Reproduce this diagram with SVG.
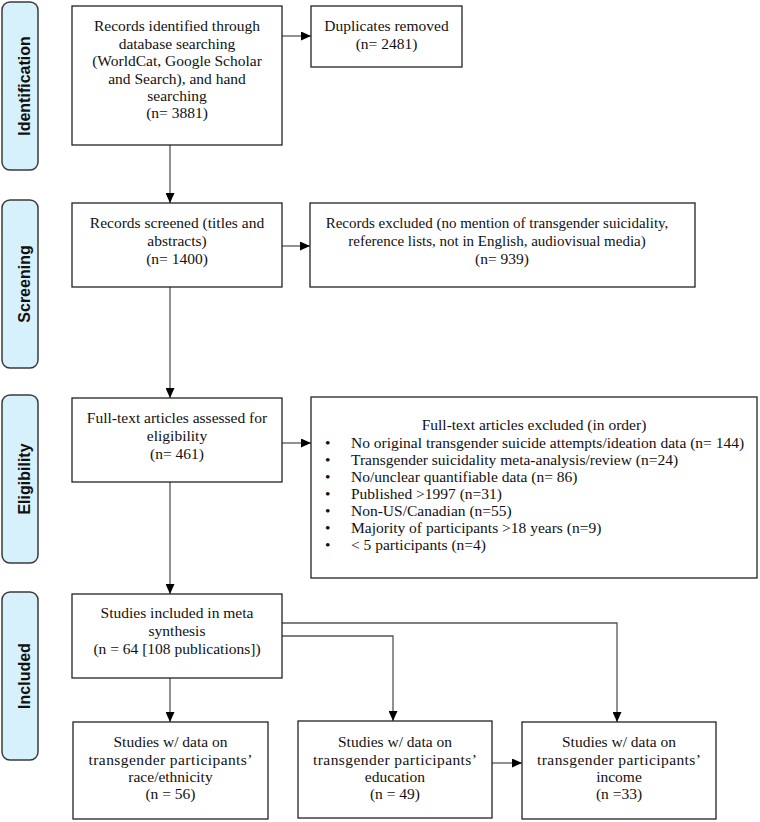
<svg xmlns="http://www.w3.org/2000/svg" width="760" height="822" viewBox="0 0 760 822">
<style>
.bx{fill:#fff;stroke:#222;stroke-width:1.3}
.ph{fill:#d7f1fc;stroke:#3a3a3a;stroke-width:1.5}
.t{font-family:"Liberation Serif","Times New Roman",serif;font-size:15.5px;fill:#111;text-anchor:middle}
.tl{font-family:"Liberation Serif","Times New Roman",serif;font-size:15.5px;fill:#111}
.pl{font-family:"Liberation Sans",Arial,sans-serif;font-size:16px;font-weight:bold;fill:#111;text-anchor:middle}
.c{fill:none;stroke:#555;stroke-width:1.3;marker-end:url(#ah)}
</style>
<defs>
<marker id="ah" markerUnits="userSpaceOnUse" markerWidth="10" markerHeight="9" refX="10" refY="4.5" orient="auto">
<path d="M0,0 L10,4.5 L0,9 z" fill="#000"/>
</marker>
</defs>
<g id="phase-identification"><rect class="ph" x="2" y="2" width="36" height="168" rx="8"/><text class="pl" transform="translate(30,86) rotate(-90)">Identification</text></g>
<g id="phase-screening"><rect class="ph" x="2" y="200" width="36" height="168" rx="8"/><text class="pl" transform="translate(30,284) rotate(-90)">Screening</text></g>
<g id="phase-eligibility"><rect class="ph" x="2" y="395" width="36" height="168" rx="8"/><text class="pl" transform="translate(30,479) rotate(-90)">Eligibility</text></g>
<g id="phase-included"><rect class="ph" x="2" y="592" width="36" height="168" rx="8"/><text class="pl" transform="translate(30,676) rotate(-90)">Included</text></g>

<g id="connectors">
<line class="c" x1="282" y1="36" x2="311" y2="36"/>
<line class="c" x1="170" y1="145" x2="170" y2="203"/>
<line class="c" x1="282" y1="246" x2="310" y2="246"/>
<line class="c" x1="170" y1="287" x2="170" y2="398"/>
<line class="c" x1="282" y1="443" x2="311" y2="443"/>
<line class="c" x1="170" y1="482" x2="170" y2="594"/>
<line class="c" x1="170" y1="678" x2="170" y2="722"/>
<polyline class="c" points="282,623 617,623 617,722"/>
<polyline class="c" points="282,636 393,636 393,721"/>
<line class="c" x1="492" y1="763" x2="522" y2="763"/>
</g>

<g id="n-identified"><rect class="bx" x="72" y="6" width="210" height="139"/>
<text class="t" x="177" y="31">Records identified through</text>
<text class="t" x="177" y="48.5">database searching</text>
<text class="t" x="177" y="66">(WorldCat, Google Scholar</text>
<text class="t" x="177" y="83.5">and Search), and hand</text>
<text class="t" x="177" y="100.5">searching</text>
<text class="t" x="177" y="118">(n= 3881)</text></g>

<g id="n-duplicates"><rect class="bx" x="311" y="6" width="151" height="61"/>
<text class="t" x="386.5" y="31">Duplicates removed</text>
<text class="t" x="386.5" y="48.5">(n= 2481)</text></g>

<g id="n-screened"><rect class="bx" x="72" y="203" width="210" height="84"/>
<text class="t" x="177" y="228">Records screened (titles and</text>
<text class="t" x="177" y="246">abstracts)</text>
<text class="t" x="177" y="264">(n= 1400)</text></g>

<g id="n-excluded1"><rect class="bx" x="310" y="203" width="385" height="84"/>
<text class="t" x="497" y="228" style="font-size:15px">Records excluded (no mention of transgender suicidality,</text>
<text class="t" x="497" y="246" style="font-size:15px">reference lists, not in English, audiovisual media)</text>
<text class="t" x="502" y="264">(n= 939)</text></g>

<g id="n-fulltext"><rect class="bx" x="72" y="398" width="210" height="84"/>
<text class="t" x="177" y="423">Full-text articles assessed for</text>
<text class="t" x="177" y="441">eligibility</text>
<text class="t" x="177" y="459">(n= 461)</text></g>

<g id="n-excluded2"><rect class="bx" x="311" y="397" width="446" height="181"/>
<text class="t" x="534" y="430">Full-text articles excluded (in order)</text>
<g class="tl">
<text x="325" y="447.5">•</text><text x="351" y="447.5">No original transgender suicide attempts/ideation data (n= 144)</text>
<text x="325" y="464.5">•</text><text x="351" y="464.5">Transgender suicidality meta-analysis/review (n=24)</text>
<text x="325" y="481.5">•</text><text x="351" y="481.5">No/unclear quantifiable data (n= 86)</text>
<text x="325" y="498.5">•</text><text x="351" y="498.5">Published &gt;1997 (n=31)</text>
<text x="325" y="515.5">•</text><text x="351" y="515.5">Non-US/Canadian (n=55)</text>
<text x="325" y="532.5">•</text><text x="351" y="532.5">Majority of participants &gt;18 years (n=9)</text>
<text x="325" y="549.5">•</text><text x="351" y="549.5">&lt; 5 participants (n=4)</text>
</g></g>

<g id="n-included"><rect class="bx" x="72" y="594" width="210" height="84"/>
<text class="t" x="177" y="618">Studies included in meta</text>
<text class="t" x="177" y="636">synthesis</text>
<text class="t" x="177" y="654">(n = 64 [108 publications])</text></g>

<g id="n-race"><rect class="bx" x="73" y="722" width="195" height="97"/>
<text class="t" x="170.5" y="747">Studies w/ data on</text>
<text class="t" x="170.5" y="765" textLength="164" lengthAdjust="spacing">transgender participants’</text>
<text class="t" x="170.5" y="782">race/ethnicity</text>
<text class="t" x="170.5" y="799">(n = 56)</text></g>

<g id="n-education"><rect class="bx" x="298" y="721" width="194" height="97"/>
<text class="t" x="395" y="747">Studies w/ data on</text>
<text class="t" x="395" y="765" textLength="164" lengthAdjust="spacing">transgender participants’</text>
<text class="t" x="395" y="782">education</text>
<text class="t" x="395" y="799">(n = 49)</text></g>

<g id="n-income"><rect class="bx" x="522" y="722" width="194" height="97"/>
<text class="t" x="619" y="747">Studies w/ data on</text>
<text class="t" x="619" y="765" textLength="164" lengthAdjust="spacing">transgender participants’</text>
<text class="t" x="619" y="782">income</text>
<text class="t" x="619" y="799">(n =33)</text></g>
</svg>
